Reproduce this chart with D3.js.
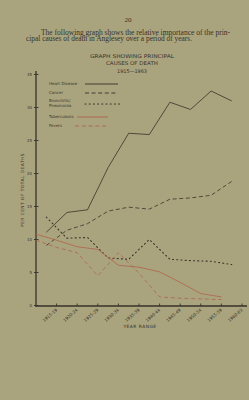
<!DOCTYPE html>
<html>
<head>
<meta charset="utf-8">
<script src="https://cdn.jsdelivr.net/npm/d3@7"></script>
<style>
  html, body { margin: 0; padding: 0; background: #aaa47e; }
  svg { display: block; }
</style>
</head>
<body>
<div id="chart"></div>
<script>
// page + plot constants
const WIDTH = 249;
const HEIGHT = 400;
const PAPER = '#aaa47e';
const INK = '#36322a';
const RED = '#ad634b';

// data (per cent of total deaths)
const years = ['1915-19', '1920-24', '1925-29', '1930-34', '1935-39',
               '1940-44', '1945-49', '1950-54', '1955-59', '1960-63'];
const heartDisease = [11.1, 14.1, 14.5, 20.9, 26.1, 25.9, 30.8, 29.7, 32.5, 31.0];
const cancer = [9.1, 11.4, 12.4, 14.3, 14.9, 14.6, 16.1, 16.3, 16.7, 18.8];
const bronchitis = [13.4, 10.2, 10.3, 7.2, 7.0, 10.0, 7.0, 6.8, 6.7, 6.2];
const tuberculosis = [10.8, 9.9, 8.9, 8.5, 6.1, 5.8, 5.1, 3.5, 1.8, 1.3];
const fevers = [9.9, 8.8, 8.0, 4.5, 8.0, 4.9, 1.3, 1.1, 1.0, 0.9];
const yTicks = [0, 5, 10, 15, 20, 25, 30, 35];

// the red lines were drawn on the tick marks, the black ones between them
const series = [
    { label: ['Heart Disease'], values: heartDisease, color: INK, dash: null, align: 'mid', ly: 84 },
    { label: ['Cancer'], values: cancer, color: INK, dash: '4 2.6', align: 'mid', ly: 93 },
    { label: ['Bronchitis/', 'Pneumonia'], values: bronchitis, color: INK, dash: '1 3.2', align: 'mid', ly: 104, dotted: true },
    { label: ['Tuberculosis'], values: tuberculosis, color: RED, dash: null, align: 'start', ly: 117 },
    { label: ['Fevers'], values: fevers, color: RED, dash: '4 2.8', align: 'start', ly: 126 }
];

const svg = d3.select('#chart')
    .append('svg')
    .attr('width', WIDTH)
    .attr('height', HEIGHT)
    .attr('viewBox', `0 0 ${WIDTH} ${HEIGHT}`);

svg.append('rect')
    .attr('width', WIDTH)
    .attr('height', HEIGHT)
    .attr('fill', PAPER);

// page number and intro text
svg.append('text')
    .attr('x', 128).attr('y', 22)
    .attr('text-anchor', 'middle')
    .attr('font-family', 'Liberation Serif, serif')
    .attr('font-size', 7)
    .attr('fill', INK)
    .text('20');

svg.append('text')
    .attr('x', 41).attr('y', 34.5)
    .attr('font-family', 'Liberation Serif, serif')
    .attr('font-size', 7.2)
    .attr('fill', INK)
    .attr('textLength', 189)
    .attr('lengthAdjust', 'spacingAndGlyphs')
    .text('The following graph shows the relative importance of the prin-');

svg.append('text')
    .attr('x', 26).attr('y', 41.3)
    .attr('font-family', 'Liberation Serif, serif')
    .attr('font-size', 7.2)
    .attr('fill', INK)
    .attr('textLength', 166)
    .attr('lengthAdjust', 'spacingAndGlyphs')
    .text('cipal causes of death in Anglesey over a period of years.');

// chart title
const titleLines = [
    { t: 'GRAPH SHOWING PRINCIPAL', y: 57.6, w: 84 },
    { t: 'CAUSES OF DEATH', y: 64.6, w: 52 },
    { t: '1915—1963', y: 72.6, w: 30 }
];
svg.selectAll('.title')
    .data(titleLines)
    .enter()
    .append('text')
    .attr('class', 'title')
    .attr('x', d => 132 - d.w / 2)
    .attr('y', d => d.y)
    .attr('font-family', 'DejaVu Sans, sans-serif')
    .attr('font-size', 5.2)
    .attr('fill', INK)
    .attr('textLength', d => d.w)
    .attr('lengthAdjust', 'spacingAndGlyphs')
    .text(d => d.t);

// scales
const x = d3.scaleBand()
    .domain(years)
    .range([36, 242]);
const y = d3.scaleLinear()
    .domain([0, 35])
    .range([305.5, 74.5]);

const xPos = (s, i) => s.align === 'mid'
    ? x(years[i]) + x.bandwidth() / 2
    : x(years[i]);

// y axis
svg.append('line')
    .attr('x1', 36).attr('x2', 36)
    .attr('y1', 71).attr('y2', 306.5)
    .attr('stroke', INK)
    .attr('stroke-width', 1.3);

const yAxis = svg.selectAll('.ytick')
    .data(yTicks)
    .enter()
    .append('g')
    .attr('class', 'ytick')
    .attr('transform', d => `translate(36,${y(d)})`);

yAxis.append('line')
    .attr('x1', -2).attr('x2', 2.5)
    .attr('stroke', INK)
    .attr('stroke-width', 0.9);

yAxis.append('text')
    .attr('x', -4)
    .attr('dy', '0.35em')
    .attr('text-anchor', 'end')
    .attr('font-family', 'DejaVu Sans, sans-serif')
    .attr('font-size', 4)
    .attr('fill', INK)
    .text(d => d);

svg.append('text')
    .attr('transform', 'translate(23.5,190) rotate(-90)')
    .attr('text-anchor', 'middle')
    .attr('font-family', 'DejaVu Sans, sans-serif')
    .attr('font-size', 4.3)
    .attr('fill', INK)
    .attr('letter-spacing', 0.5)
    .text('PER CENT OF TOTAL DEATHS');

// x axis
svg.append('line')
    .attr('x1', 35.5).attr('x2', 247)
    .attr('y1', 306).attr('y2', 306)
    .attr('stroke', INK)
    .attr('stroke-width', 1.3);

const xAxis = svg.selectAll('.xtick')
    .data(years)
    .enter()
    .append('g')
    .attr('class', 'xtick')
    .attr('transform', d => `translate(${x(d) + x.bandwidth()},306)`);

xAxis.append('line')
    .attr('y1', -2.5).attr('y2', 0)
    .attr('stroke', INK)
    .attr('stroke-width', 0.9);

xAxis.append('text')
    .attr('transform', 'translate(0,3.5) rotate(-40)')
    .attr('text-anchor', 'end')
    .attr('dy', '0.35em')
    .attr('font-family', 'DejaVu Sans, sans-serif')
    .attr('font-size', 4.2)
    .attr('fill', INK)
    .text(d => d);

svg.append('text')
    .attr('x', 140).attr('y', 327.8)
    .attr('text-anchor', 'middle')
    .attr('font-family', 'DejaVu Sans, sans-serif')
    .attr('font-size', 4.4)
    .attr('letter-spacing', 0.5)
    .attr('fill', INK)
    .text('YEAR RANGE');

// series lines
const line = s => d3.line()
    .x((d, i) => xPos(s, i))
    .y(d => y(d));

svg.selectAll('.series')
    .data(series)
    .enter()
    .append('path')
    .attr('class', 'series')
    .attr('d', s => line(s)(s.values))
    .attr('fill', 'none')
    .attr('stroke', s => s.color)
    .attr('stroke-width', s => s.dotted ? 1.1 : 0.8)
    .attr('stroke-linecap', s => s.dotted ? 'round' : 'butt')
    .attr('stroke-dasharray', s => s.dash);

// legend
const legendLines = [
    { x1: 85, x2: 118 }, { x1: 85, x2: 118 }, { x1: 85, x2: 120 },
    { x1: 77, x2: 108 }, { x1: 75, x2: 108 }
];
const legend = svg.selectAll('.legend')
    .data(series)
    .enter()
    .append('g')
    .attr('class', 'legend');

legend.append('line')
    .attr('x1', (s, i) => legendLines[i].x1)
    .attr('x2', (s, i) => legendLines[i].x2)
    .attr('y1', s => s.ly)
    .attr('y2', s => s.ly)
    .attr('stroke', s => s.color)
    .attr('stroke-width', s => s.dotted ? 1.1 : 0.9)
    .attr('stroke-linecap', s => s.dotted ? 'round' : 'butt')
    .attr('stroke-dasharray', s => s.dash);

legend.append('text')
    .attr('x', 49)
    .attr('y', s => s.ly + (s.label.length > 1 ? -2.2 : 1.4))
    .attr('font-family', 'DejaVu Sans, sans-serif')
    .attr('font-size', 4)
    .attr('fill', INK)
    .selectAll('tspan')
    .data(s => s.label)
    .enter()
    .append('tspan')
    .attr('x', 49)
    .attr('dy', (d, i) => i === 0 ? 0 : 5)
    .text(d => d);
</script>
</body>
</html>
